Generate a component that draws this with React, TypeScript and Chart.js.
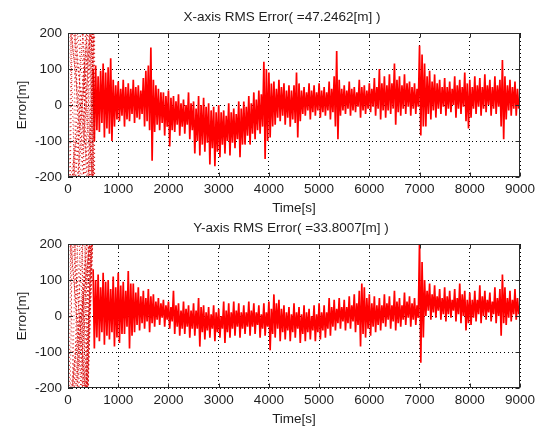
import React, { useEffect, useRef } from 'react';
import { Chart, registerables } from 'chart.js';

Chart.register(...registerables);

// ---------- data ----------
// Sampling grid: bins of 50 s starting at 500 s (one row below = 500 s)
const BIN_START = 500;
const BIN_STEP = 50;

// X-axis error: upper / lower extent of the noise in each 50 s bin (m)
const xErrHigh = [
  100, 110, 80, 95, 115, 90, 105, 130, 70, 55,
  65, 45, 70, 50, 60, 45, 70, 50, 55, 40,
  75, 95, 110, 160, 70, 55, 45, 35, 35, 25,
  40, 20, 25, 10, 30, 5, 15, 0, 35, 5,
  10, -10, 25, 0, 20, -5, 5, -15, -5, -20,
  0, -20, -15, -30, 5, -20, -10, -25, 10, -10,
  10, -5, 25, 5, 35, 15, 40, 30, 120, 100,
  90, 60, 65, 45, 70, 50, 60, 40, 55, 40,
  55, 90, 60, 40, 50, 35, 60, 40, 55, 35,
  60, 40, 50, 35, 65, 45, 80, 150, 70, 45,
  55, 40, 65, 45, 50, 35, 70, 50, 55, 40,
  60, 45, 75, 50, 100, 60, 80, 55, 85, 60,
  115, 70, 80, 55, 85, 60, 65, 50, 60, 45,
  165, 140, 115, 80, 95, 65, 85, 60, 70, 50,
  75, 50, 65, 45, 80, 55, 70, 50, 90, 60,
  70, 50, 80, 55, 75, 50, 85, 55, 70, 50,
  80, 55, 70, 125, 80, 55, 70, 50, 65, 45,
];
const xErrLow = [
  -100, -70, -75, -50, -90, -65, -80, -100, -60, -40,
  -45, -30, -60, -40, -45, -25, -50, -35, -40, -25,
  -60, -45, -70, -155, -75, -55, -70, -50, -85, -60,
  -115, -70, -75, -55, -85, -60, -80, -55, -95, -70,
  -135, -100, -140, -110, -130, -105, -165, -120, -170, -130,
  -145, -110, -135, -100, -140, -105, -120, -95, -145, -110,
  -110, -85, -110, -80, -95, -70, -80, -60, -150, -100,
  -90, -60, -55, -35, -45, -30, -55, -35, -60, -40,
  -50, -90, -45, -25, -30, -15, -40, -20, -30, -15,
  -35, -20, -30, -15, -40, -20, -60, -95, -30, -15,
  -25, -10, -30, -15, -20, -5, -35, -15, -25, -10,
  -20, -5, -30, -10, -40, -15, -35, -15, -25, -10,
  -55, -20, -30, -10, -25, -5, -30, -10, -25, -5,
  -85, -60, -60, -25, -40, -15, -35, -10, -25, -5,
  -30, -10, -20, 0, -35, -10, -25, -5, -45, -65,
  -35, -10, -25, -5, -30, -10, -20, 0, -30, -10,
  -25, -5, -60, -95, -40, -15, -30, -10, -30, -10,
];

// Y-axis error: upper / lower extent of the noise in each 50 s bin (m)
const yErrHigh = [
  130, 100, 115, 80, 120, 95, 100, 75, 110, 80,
  120, 85, 95, 70, 125, 90, 90, 65, 80, 55,
  70, 50, 75, 55, 60, 40, 50, 35, 45, 30,
  40, 25, 70, 30, 35, 15, 40, 20, 30, 15,
  35, 15, 50, 25, 30, 10, 25, 5, 30, 10,
  20, 0, 40, 15, 35, 10, 40, 15, 35, 10,
  30, 10, 40, 15, 35, 10, 30, 5, 35, 10,
  40, 20, 60, 35, 45, 20, 30, 10, 25, 5,
  35, 10, 25, 5, 30, 10, 20, 0, 30, 5,
  35, 10, 30, 10, 50, 25, 45, 20, 50, 25,
  45, 25, 55, 30, 60, 35, 70, 90, 80, 50,
  60, 35, 55, 30, 50, 30, 60, 35, 55, 30,
  70, 40, 50, 30, 65, 40, 55, 35, 50, 30,
  210, 150, 100, 70, 90, 60, 85, 55, 75, 50,
  80, 55, 70, 45, 75, 50, 90, 60, 70, 45,
  65, 45, 70, 45, 85, 55, 70, 45, 65, 40,
  80, 50, 75, 115, 80, 50, 70, 45, 75, 50,
];
const yErrLow = [
  -90, -60, -70, -45, -80, -55, -65, -45, -85, -60,
  -75, -50, -50, -30, -90, -55, -45, -25, -40, -20,
  -35, -15, -45, -20, -30, -10, -25, -5, -30, -10,
  -35, -15, -50, -30, -55, -35, -50, -30, -60, -35,
  -55, -35, -85, -45, -65, -40, -60, -35, -70, -45,
  -60, -35, -75, -45, -60, -35, -55, -30, -60, -35,
  -50, -30, -55, -30, -50, -25, -60, -35, -55, -30,
  -95, -50, -60, -35, -70, -45, -65, -40, -70, -45,
  -60, -35, -75, -50, -70, -45, -65, -40, -70, -45,
  -65, -40, -60, -35, -55, -30, -40, -20, -35, -15,
  -40, -20, -35, -15, -45, -25, -85, -50, -60, -35,
  -55, -30, -45, -25, -40, -20, -30, -10, -35, -15,
  -40, -20, -30, -10, -25, -5, -30, -10, -25, -5,
  -130, -60, 0, 15, -10, 10, -5, 15, -10, 5,
  -15, 5, -5, 15, -15, 5, -20, 0, -40, -20,
  -25, -5, -15, 5, -20, 0, -10, 10, -15, 5,
  -20, 0, -55, -20, -25, -5, -15, 5, -10, 5,
];

// Start-up transient (0–530 s): scattered samples spanning beyond ±200 m
const xEarlyTimes = [0, 480, 520, 30, 60, 510, 470, 100, 150, 530, 500, 0, 20, 400, 530, 200, 250, 520, 440, 40, 90, 460, 510, 300, 350, 500, 420, 120, 200, 530, 530, 380, 280, 450, 490, 170, 400, 520, 460, 250, 120, 420, 510, 60, 330, 490, 530, 140, 40, 350];
const xEarlyValues = [260, -260, 260, -260, 260, -260, 260, -260, 260, -260, 260, -260, 260, -260, 260, -260, 260, -260, 260, -260, 260, -260, 260, -260, 260, -260, 260, -260, 260, -260, 260, -260, 260, -260, 260, -260, 260, -260, 260, -260, 260, -260, 260, -260, 260, -260, 260, -260, 260, -260];
const yEarlyTimes = [0, 380, 500, 20, 60, 390, 460, 90, 150, 370, 490, 0, 20, 330, 510, 180, 250, 390, 430, 40, 90, 360, 480, 260, 350, 380, 410, 120, 200, 390, 500, 300, 280, 350, 470, 150, 400, 390, 450, 220, 120, 340, 490, 60, 330, 385, 500, 110, 40, 290];
const yEarlyValues = [260, -260, 260, -260, 260, -260, 260, -260, 260, -260, 260, -260, 260, -260, 260, -260, 260, -260, 260, -260, 260, -260, 260, -260, 260, -260, 260, -260, 260, -260, 260, -260, 260, -260, 260, -260, 260, -260, 260, -260, 260, -260, 260, -260, 260, -260, 260, -260, 260, -260];

const timeTicks = [0, 1000, 2000, 3000, 4000, 5000, 6000, 7000, 8000, 9000];
const errorTicks = [-200, -100, 0, 100, 200];

const xTitle = 'X-axis RMS Error( =47.2462[m] )';
const yTitle = 'Y-axis RMS Error( =33.8007[m] )';

// ---------- helpers ----------
function zigzag(high: number[], low: number[]) {
  const pts: { x: number; y: number }[] = [];
  high.forEach((h, i) => {
    const t = BIN_START + i * BIN_STEP;
    pts.push({ x: t, y: h });
    pts.push({ x: t + BIN_STEP / 2, y: low[i] });
  });
  return pts;
}
function pairs(ts: number[], vs: number[]) {
  return ts.map((t, i) => ({ x: t, y: vs[i] }));
}

const FONT = '"Liberation Sans", Arial, sans-serif';
const TEXT = '#1e1e1e';

function makeConfig(title: string, titleX: number, high: number[], low: number[], et: number[], ev: number[]): any {
  const framePlugin = {
    id: 'frame',
    afterDraw(chart: any) {
      const { ctx, chartArea } = chart;
      const { left, right, top, bottom } = chartArea;
      const xs = chart.scales.x;
      const ys = chart.scales.y;
      ctx.save();
      ctx.strokeStyle = '#2a2a2a';
      ctx.lineWidth = 1;
      const L = Math.round(left) + 0.5;
      const R = Math.round(right) - 0.5;
      const T = Math.round(top) + 0.5;
      const B = Math.round(bottom) - 0.5;
      ctx.strokeRect(L, T, R - L, B - T);
      ctx.beginPath();
      const tl = 4;
      timeTicks.forEach((v) => {
        const px = Math.round(xs.getPixelForValue(v)) + 0.5;
        ctx.moveTo(px, B);
        ctx.lineTo(px, B - tl);
        ctx.moveTo(px, T);
        ctx.lineTo(px, T + tl);
      });
      errorTicks.forEach((v) => {
        const py = Math.round(ys.getPixelForValue(v)) + 0.5;
        ctx.moveTo(L, py);
        ctx.lineTo(L + tl, py);
        ctx.moveTo(R, py);
        ctx.lineTo(R - tl, py);
      });
      ctx.stroke();
      ctx.fillStyle = TEXT;
      ctx.font = `13.5px ${FONT}`;
      ctx.textAlign = 'center';
      ctx.textBaseline = 'middle';
      ctx.fillText(title, titleX, 17);
      ctx.restore();
    },
  };

  const tickFont = { family: FONT, size: 13.5 };

  return {
    type: 'scatter',
    data: {
      datasets: [
        {
          label: 'start-up',
          data: pairs(et, ev),
          showLine: true,
          borderColor: 'rgba(215,0,0,0.9)',
          borderWidth: 1,
          borderDash: [1, 3],
          pointRadius: 0,
        },
        {
          label: 'error',
          data: zigzag(high, low),
          showLine: true,
          borderColor: 'rgb(255,0,0)',
          borderWidth: 1.7,
          pointRadius: 0,
        },
      ],
    },
    options: {
      animation: false,
      responsive: false,
      devicePixelRatio: 1,
      layout: { padding: { left: 0, right: 24, top: 33, bottom: 0 } },
      plugins: {
        legend: { display: false },
        tooltip: { enabled: false },
        title: { display: false },
      },
      scales: {
        x: {
          type: 'linear',
          min: 0,
          max: 9000,
          afterBuildTicks: (s: any) => {
            s.ticks = timeTicks.map((v) => ({ value: v }));
          },
          afterFit: (s: any) => {
            s.height = 39;
          },
          ticks: {
            autoSkip: false,
            maxRotation: 0,
            padding: 4,
            color: TEXT,
            font: tickFont,
            callback: (v: any) => String(v),
          },
          grid: { color: '#000', lineWidth: 1, drawTicks: false },
          border: { display: false, dash: [1, 3] },
          title: {
            display: true,
            text: 'Time[s]',
            color: TEXT,
            font: tickFont,
            padding: { top: 0, bottom: 0 },
          },
        },
        y: {
          type: 'linear',
          min: -200,
          max: 200,
          afterBuildTicks: (s: any) => {
            s.ticks = errorTicks.map((v) => ({ value: v }));
          },
          afterFit: (s: any) => {
            s.width = 68;
          },
          ticks: {
            padding: 6,
            color: TEXT,
            font: tickFont,
            callback: (v: any) => String(v),
          },
          grid: { color: '#000', lineWidth: 1, drawTicks: false },
          border: { display: false, dash: [1, 3] },
          title: {
            display: true,
            text: 'Error[m]',
            color: TEXT,
            font: tickFont,
            padding: { top: 14, bottom: 0 },
          },
        },
      },
    },
    plugins: [framePlugin],
  };
}

function Panel(props: { top: number; cfg: () => any }) {
  const ref = useRef<HTMLCanvasElement | null>(null);
  useEffect(() => {
    if (!ref.current) return;
    const chart = new Chart(ref.current, props.cfg());
    return () => chart.destroy();
  }, []);
  return (
    <canvas
      ref={ref}
      width={544}
      height={216}
      style={{ position: 'absolute', left: 0, top: props.top, width: 544, height: 216 }}
    />
  );
}

export default function App() {
  return (
    <div
      style={{
        position: 'fixed',
        left: 0,
        top: 0,
        width: 544,
        height: 427,
        overflow: 'hidden',
        background: '#fff',
      }}
    >
      <Panel top={0} cfg={() => makeConfig(xTitle, 282, xErrHigh, xErrLow, xEarlyTimes, xEarlyValues)} />
      <Panel top={211} cfg={() => makeConfig(yTitle, 291, yErrHigh, yErrLow, yEarlyTimes, yEarlyValues)} />
    </div>
  );
}
